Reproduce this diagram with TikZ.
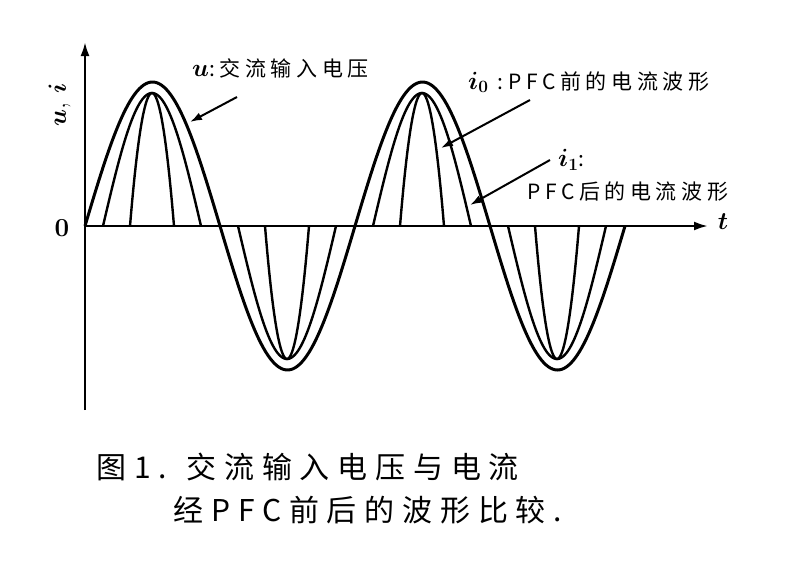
\documentclass[tikz,border=0pt]{standalone}
\usepackage{amsmath,amssymb}
\usepackage{bm}
\usepackage{fontspec}
\newfontfamily\cjk[LetterSpace=22]{Noto Sans CJK SC}
\newfontfamily\capfont[LetterSpace=26]{Noto Sans CJK SC}
\usetikzlibrary{arrows.meta}
\tikzset{
	wave/.style={line width=3pt},
	pulse/.style={line width=2.4pt},
	axis/.style={line width=2.4pt, -{Latex[length=14pt,width=9pt]}},
	pointer/.style={line width=2pt, -{Latex[length=12pt,width=8pt]}},
	lbl/.style={font=\cjk\fontsize{21pt}{23pt}\selectfont, inner sep=0pt}
}
\newcommand{\sym}[1]{{\fontsize{26pt}{26pt}\selectfont$\bm{#1}$}}
\begin{document}
\begin{tikzpicture}[x=1pt, y=-1pt]
	\useasboundingbox (0,0) rectangle (811,582);
	% axes
	\coordinate (o) at (85,226);
	\coordinate (ytop) at (85,42);
	\coordinate (ybot) at (85,410);
	\coordinate (xend) at (708,226);
	\draw [axis] (ybot) -- (ytop);
	\draw [axis] (o) -- (xend);
	\node [font=\bfseries\fontsize{26pt}{26pt}\selectfont] (zero) at (62,228) {0};
	\node [font=\fontsize{28pt}{28pt}\selectfont, rotate=90] (ylbl) at (60,105) {$\bm{u}$, $\bm{i}$};
	\node [font=\fontsize{30pt}{30pt}\selectfont] (tlbl) at (723,222) {$\bm{t}$};
	% waves
	\draw [wave] plot [domain=85:625, samples=240] (\x,{226-144*sin((\x-85)/135*180)});
	\foreach \c/\s in {152/1, 287/-1, 422/1, 557/-1}{
		\draw [pulse] plot [domain=\c-49:\c+49, samples=60] (\x,{226-\s*133*cos((\x-\c)/49*90)});
		\draw [pulse] plot [domain=\c-22:\c+22, samples=40] (\x,{226-\s*133*(1-(\x-\c)*(\x-\c)/484)});
	}
	% labels
	\node [lbl, anchor=west] (ulbl) at (192,68) {\sym{u}:交流输入电压};
	\node [lbl, anchor=west] (i0lbl) at (468,82) {\sym{i_0} :PFC前的电流波形};
	\node [lbl, anchor=west] (i1lbl) at (558,160) {\sym{i_1}:};
	\node [lbl, anchor=west] (i1txt) at (527,192) {PFC后的电流波形};
	\coordinate (ua) at (190,122);
	\coordinate (i0a) at (441,148);
	\coordinate (i1a) at (470,205);
	\draw [pointer] (237,97) -- (ua);
	\draw [pointer] (530,100) -- (i0a);
	\draw [pointer] (i1lbl.west) ++(-8,0) -- (i1a);
	% caption
	\node [font=\capfont\fontsize{30pt}{32pt}\selectfont, anchor=west] (cap1) at (93,467) {图1. 交流输入电压与电流};
	\node [font=\capfont\fontsize{30pt}{32pt}\selectfont, anchor=west] (cap2) at (170,510) {经PFC前后的波形比较.};
\end{tikzpicture}
\end{document}
